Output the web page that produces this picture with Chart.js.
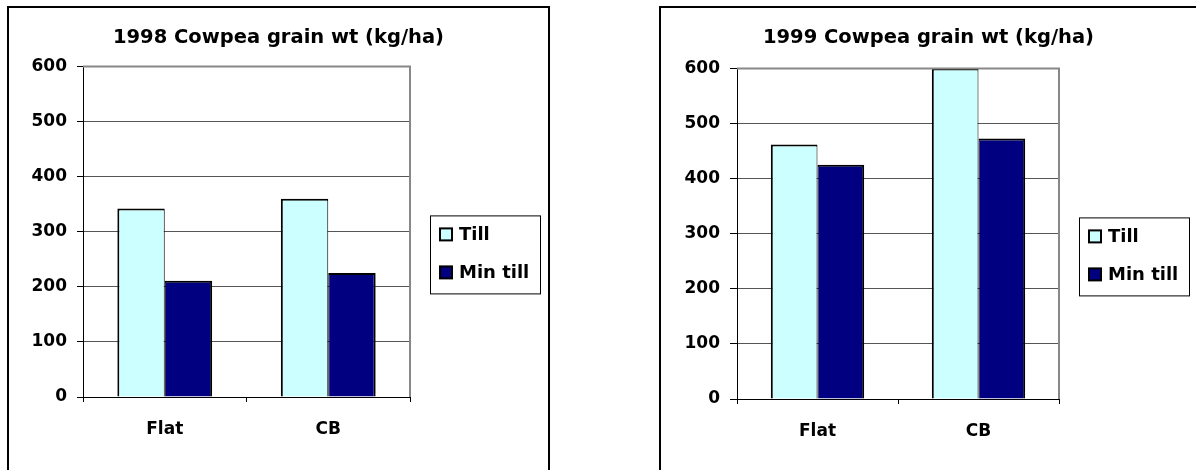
<!DOCTYPE html>
<html>
<head>
<meta charset="utf-8">
<script src="https://cdn.jsdelivr.net/npm/chart.js@4"></script>
<style>
body { margin: 0; background: #fff; width: 1196px; height: 470px; overflow: hidden; position: relative; }
.box { position: absolute; top: 6px; border: 2px solid #000; background: #fff; }
#box1 { left: 7px; width: 539px; height: 470px; }
#box2 { left: 659px; width: 545px; height: 470px; }
canvas { display: block; }
</style>
</head>
<body>
<div class="box" id="box1"><canvas id="chart1" width="539" height="462"></canvas></div>
<div class="box" id="box2"><canvas id="chart2" width="535" height="462"></canvas></div>
<script>
// values
const categories = ['Flat', 'CB'];
const seriesNames = ['Till', 'Min till'];
const till1998 = [342, 360];
const minTill1998 = [211, 225];
const till1999 = [462, 600];
const minTill1999 = [425, 473];
const yTicks = [0, 100, 200, 300, 400, 500, 600];
const seriesColors = ['#CCFFFF', '#000080'];

Chart.defaults.font.family = '"DejaVu Sans", sans-serif';
Chart.defaults.font.weight = 'bold';
Chart.defaults.font.size = 17;
Chart.defaults.color = '#000';

// gray plot frame on top/right + boxed legend on the right
const frameAndLegend = {
    id: 'frameAndLegend',
    afterDraw(chart) {
        let ctx = chart.ctx;
        let a = chart.chartArea;
        ctx.save();
        ctx.strokeStyle = '#888';
        ctx.lineWidth = 2;
        ctx.beginPath();
        ctx.moveTo(a.left, a.top);
        ctx.lineTo(a.right, a.top);
        ctx.lineTo(a.right, a.bottom);
        ctx.stroke();

        let bx = a.right + 20, by = a.top + 149, bw = 110, bh = 78;
        ctx.strokeStyle = '#000';
        ctx.lineWidth = 1;
        ctx.strokeRect(bx + 0.5, by + 0.5, bw, bh);
        ctx.font = 'bold 18px "DejaVu Sans", sans-serif';
        ctx.textBaseline = 'middle';
        chart.data.datasets.forEach((ds, i) => {
            let cy = by + 19 + i * 38;
            ctx.fillStyle = ds.backgroundColor;
            ctx.fillRect(bx + 10, cy - 6, 12, 12);
            ctx.lineWidth = 2;
            ctx.strokeRect(bx + 10, cy - 6, 12, 12);
            ctx.fillStyle = '#000';
            ctx.fillText(ds.label, bx + 29, cy + 1);
        });
        ctx.restore();
    }
};

function makeChart(id, title, till, minTill, plot, titlePadBottom) {
    let canvas = document.getElementById(id);
    return new Chart(canvas, {
        type: 'bar',
        data: {
            labels: categories,
            datasets: [
                { label: seriesNames[0], data: till, backgroundColor: seriesColors[0], borderColor: '#000',
                  borderWidth: { top: 2, left: 2, right: 1, bottom: 0 } },
                { label: seriesNames[1], data: minTill, backgroundColor: seriesColors[1], borderColor: '#000',
                  borderWidth: { top: 2, left: 1, right: 2, bottom: 0 } }
            ]
        },
        options: {
            responsive: false,
            animation: false,
            devicePixelRatio: 1,
            datasets: { bar: { categoryPercentage: 0.58, barPercentage: 1.0 } },
            layout: { padding: 0 },
            plugins: {
                legend: { display: false },
                tooltip: { enabled: false },
                title: {
                    display: true,
                    text: title,
                    font: { size: 19.5, weight: 'bold', lineHeight: 1.2 },
                    padding: { top: 18, bottom: titlePadBottom }
                }
            },
            scales: {
                x: {
                    grid: { display: true, drawOnChartArea: false, drawTicks: true, tickLength: 5, offset: true, tickColor: '#000' },
                    border: { display: true, color: '#000', width: 1 },
                    ticks: { padding: 17, font: { size: 17 } },
                    afterFit: s => { s.height = canvas.height - plot.bottom; }
                },
                y: {
                    min: 0,
                    max: 600,
                    afterBuildTicks: s => { s.ticks = yTicks.map(v => ({ value: v })); },
                    grid: { color: '#555', lineWidth: 1, tickLength: plot.tick, tickColor: '#000' },
                    border: { display: true, color: '#000', width: 1 },
                    ticks: { padding: 10, font: { size: 17 } },
                    afterFit: s => { s.width = plot.left; }
                },
                // empty right-hand axis that only reserves room for the legend
                side: {
                    axis: 'y',
                    position: 'right',
                    grid: { display: false },
                    border: { display: false },
                    ticks: { display: false },
                    afterFit: s => { s.width = canvas.width - plot.right; }
                }
            }
        },
        plugins: [frameAndLegend]
    });
}

makeChart('chart1', '1998 Cowpea grain wt (kg/ha)', till1998, minTill1998, { left: 74, right: 401, bottom: 389, tick: 6 }, 17);
makeChart('chart2', '1999 Cowpea grain wt (kg/ha)', till1999, minTill1999, { left: 76, right: 398, bottom: 391, tick: 7 }, 19);
</script>
</body>
</html>
